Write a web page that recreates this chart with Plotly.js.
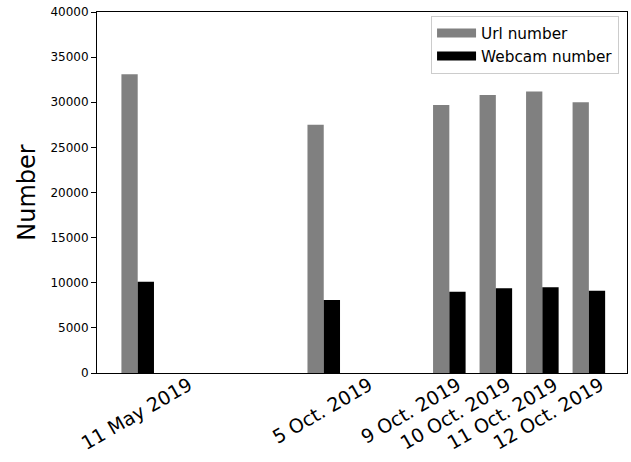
<!DOCTYPE html>
<html>
<head>
<meta charset="utf-8">
<script src="https://cdn.plot.ly/plotly-3.0.1.min.js"></script>
<style>html,body{margin:0;padding:0;background:#fff;}#chart{width:631px;height:462px;}</style>
</head>
<body>
<div id="chart"></div>
<script>
// Data
var pairPositions = [0, 4, 6.7, 7.7, 8.7, 9.7];
var urlNumber = [33100, 27500, 29700, 30800, 31200, 30000];
var webcamNumber = [10100, 8100, 9000, 9400, 9500, 9100];
var labelPositions = [1.1, 4.98, 6.88, 7.95, 8.96, 9.95];
var dateLabels = ['11 May 2019', '5 Oct. 2019', '9 Oct. 2019', '10 Oct. 2019', '11 Oct. 2019', '12 Oct. 2019'];
var seriesNames = ['Url number', 'Webcam number'];

var FONT = 'DejaVu Sans, sans-serif';
var barW = 0.35;

var traces = [
  {type: 'bar', x: pairPositions, y: urlNumber, width: barW, offset: -barW,
   marker: {color: '#808080', line: {width: 0}}, name: seriesNames[0], showlegend: false},
  {type: 'bar', x: pairPositions, y: webcamNumber, width: barW, offset: 0,
   marker: {color: '#000000', line: {width: 0}}, name: seriesNames[1], showlegend: false},
  {type: 'scatter', mode: 'lines', x: [null], y: [null], name: seriesNames[0],
   line: {color: '#808080', width: 9}, hoverinfo: 'skip'},
  {type: 'scatter', mode: 'lines', x: [null], y: [null], name: seriesNames[1],
   line: {color: '#000000', width: 9}, hoverinfo: 'skip'}
];

var layout = {
  width: 631, height: 462,
  margin: {l: 97, r: 4, t: 12, b: 89, pad: 0},
  paper_bgcolor: '#ffffff', plot_bgcolor: '#ffffff',
  font: {family: FONT, color: '#000000', size: 12},
  barmode: 'overlay',
  showlegend: true,
  legend: {
    x: 0.985, y: 0.99, xanchor: 'right', yanchor: 'top',
    bgcolor: '#ffffff', bordercolor: '#cccccc', borderwidth: 1,
    font: {family: FONT, size: 15.3, color: '#000000'},
    itemwidth: 39,
    tracegroupgap: 0
  },
  xaxis: {
    range: [-0.875, 10.52],
    tickmode: 'array', tickvals: labelPositions, ticktext: dateLabels,
    tickangle: -30, ticks: '', showgrid: false, zeroline: false,
    ticklabelstandoff: -7,
    showline: true, mirror: true, linecolor: '#000000', linewidth: 1,
    tickfont: {family: FONT, size: 19, color: '#000000'}
  },
  yaxis: {
    range: [0, 40000], dtick: 5000, tick0: 0, tickformat: 'd',
    ticks: 'outside', ticklen: 5, tickwidth: 1, tickcolor: '#000000',
    showgrid: false, zeroline: false,
    showline: true, mirror: true, linecolor: '#000000', linewidth: 1,
    tickfont: {family: FONT, size: 12, color: '#000000'},
    title: {text: 'Number', font: {family: FONT, size: 24, color: '#000000'}, standoff: 8}
  }
};

Plotly.newPlot('chart', traces, layout, {displayModeBar: false, staticPlot: true});
</script>
</body>
</html>
